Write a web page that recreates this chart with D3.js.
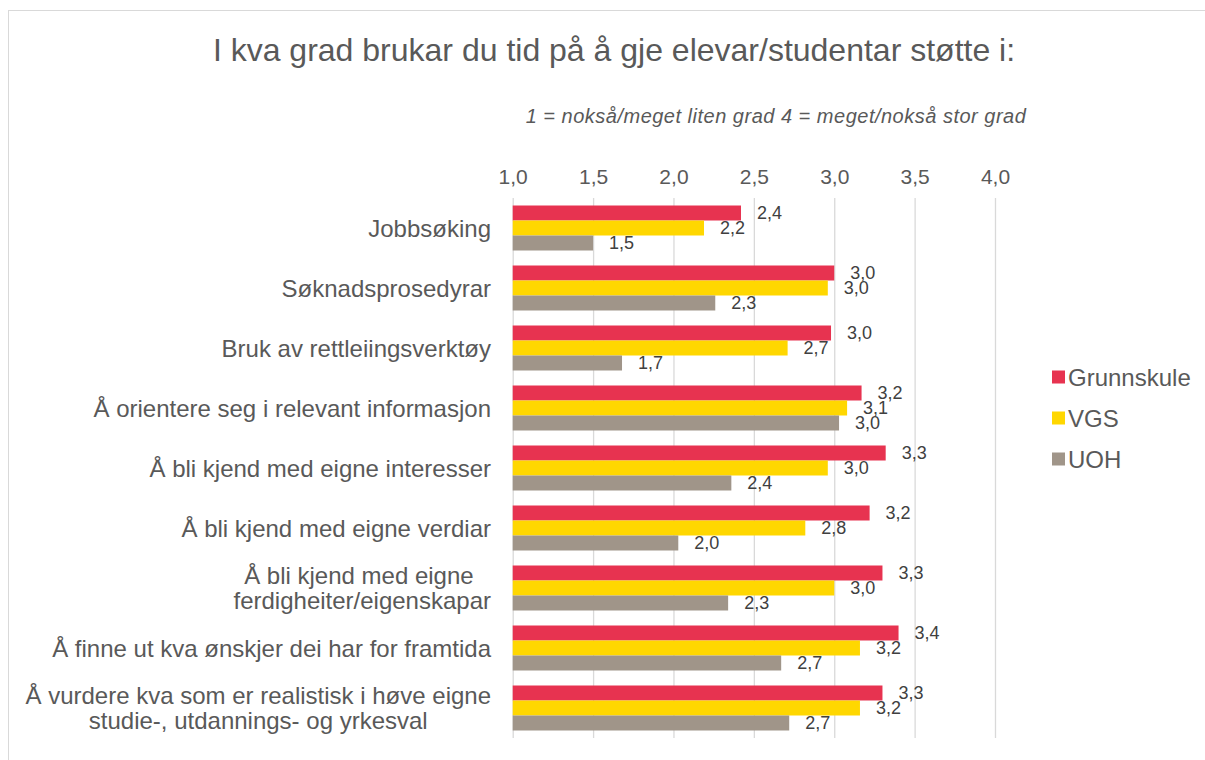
<!DOCTYPE html>
<html lang="no">
<head>
<meta charset="utf-8">
<title>Rettleiing</title>
<script src="https://d3js.org/d3.v7.min.js"></script>
<style>
  body { margin: 0; background: #fff; }
  svg { font-family: "Liberation Sans", Arial, sans-serif; }
  .grid line { stroke: #d9d9d9; stroke-width: 1.3px; }
  .grid .domain { display: none; }
  .ticks text { fill: #595959; font-size: 21px; }
  .ticks .domain, .ticks line { display: none; }
  .cat { fill: #595959; font-size: 24px; }
  .val { fill: #404040; font-size: 18px; }
  .legend text { fill: #595959; font-size: 24px; }
</style>
</head>
<body>
<script>
var categories = [
  ["Jobbsøking"],
  ["Søknadsprosedyrar"],
  ["Bruk av rettleiingsverktøy"],
  ["Å orientere seg i relevant informasjon"],
  ["Å bli kjend med eigne interesser"],
  ["Å bli kjend med eigne verdiar"],
  ["Å bli kjend med eigne ", "ferdigheiter/eigenskapar"],
  ["Å finne ut kva ønskjer dei har for framtida"],
  ["Å vurdere kva som er realistisk i høve eigne", "studie-, utdannings- og yrkesval"]
];
var seriesNames = ["Grunnskule", "VGS", "UOH"];
var grunnskule = [2.42, 3.00, 2.98, 3.17, 3.32, 3.22, 3.30, 3.40, 3.30];
var vgs        = [2.19, 2.96, 2.71, 3.08, 2.96, 2.82, 3.00, 3.16, 3.16];
var uoh        = [1.50, 2.26, 1.68, 3.03, 2.36, 2.03, 2.34, 2.67, 2.72];
var xTicks = [1.0, 1.5, 2.0, 2.5, 3.0, 3.5, 4.0];
var colors = ["#e73350", "#ffd700", "#a09589"];

var W = 1205, H = 760;
var svg = d3.select("body").append("svg").attr("width", W).attr("height", H);

// chart border (cut off at right/bottom in the original)
svg.append("rect")
  .attr("x", 8.5).attr("y", 10.5)
  .attr("width", W + 20).attr("height", H + 20)
  .attr("fill", "none").attr("stroke", "#d9d9d9");

var plotTop = 198, plotBottom = 738, plotLeft = 512.7, plotRight = 995;

var x = d3.scaleLinear().domain([1, 4]).range([plotLeft, plotRight]);
var y = d3.scaleBand().domain(d3.range(categories.length))
  .range([plotTop, plotBottom]).paddingInner(0.25).paddingOuter(0.125);
var ySub = d3.scaleBand().domain(d3.range(3)).range([0, y.bandwidth()]);

var fmt = function(d) { return d3.format(".1f")(d).replace(".", ","); };

svg.append("text")
  .attr("x", 614).attr("y", 61)
  .attr("text-anchor", "middle")
  .attr("fill", "#595959")
  .style("font-size", "32px")
  .text("I kva grad brukar du tid på å gje elevar/studentar støtte i:");

svg.append("text")
  .attr("x", 776).attr("y", 123)
  .attr("text-anchor", "middle")
  .attr("fill", "#595959")
  .style("font-size", "20px")
  .style("letter-spacing", "0.5px")
  .style("font-style", "italic")
  .text("1 = nokså/meget liten grad 4 = meget/nokså stor grad");

svg.append("g")
  .attr("class", "grid")
  .attr("transform", "translate(0," + plotTop + ")")
  .call(d3.axisTop(x).tickValues(xTicks).tickSize(-(plotBottom - plotTop)).tickFormat(""));

svg.append("g")
  .attr("class", "ticks")
  .attr("transform", "translate(0,184)")
  .call(d3.axisTop(x).tickValues(xTicks).tickSize(0).tickPadding(0).tickFormat(fmt))
  .selectAll("text").attr("dy", 0);

var series = [grunnskule, vgs, uoh];

var groups = svg.append("g").selectAll("g")
  .data(categories)
  .join("g")
  .attr("transform", function(d, i) { return "translate(0," + y(i) + ")"; });

groups.each(function(cat, i) {
  var g = d3.select(this);
  series.forEach(function(s, k) {
    g.append("rect")
      .attr("x", x(1))
      .attr("y", ySub(k))
      .attr("width", x(s[i]) - x(1))
      .attr("height", ySub.bandwidth())
      .attr("fill", colors[k]);
    g.append("text")
      .attr("class", "val")
      .attr("x", x(s[i]) + 16)
      .attr("y", ySub(k) + ySub.bandwidth() / 2)
      .attr("dy", "0.36em")
      .text(fmt(s[i]));
  });

  // category label, lines centred on each other, block right-aligned
  var lh = 25;
  var cy = y.bandwidth() / 2 - (cat.length - 1) * lh / 2;
  var t = g.append("text").attr("class", "cat");
  var spans = cat.map(function(line, j) {
    return t.append("tspan").attr("y", cy + j * lh).attr("dy", "0.36em")
      .attr("text-anchor", "middle").text(line);
  });
  var widths = spans.map(function(sp) { return sp.node().getComputedTextLength(); });
  var maxW = d3.max(widths);
  var cx = 491 - maxW / 2;
  spans.forEach(function(sp) { sp.attr("x", cx); });
});

var legend = svg.append("g").attr("class", "legend")
  .selectAll("g")
  .data(seriesNames)
  .join("g")
  .attr("transform", function(d, i) { return "translate(1052," + (377 + i * 41) + ")"; });

legend.append("rect")
  .attr("x", 0).attr("y", -6.5)
  .attr("width", 13).attr("height", 13)
  .attr("fill", function(d, i) { return colors[i]; });

legend.append("text")
  .attr("x", 16).attr("dy", "0.36em")
  .text(function(d) { return d; });
</script>
</body>
</html>
